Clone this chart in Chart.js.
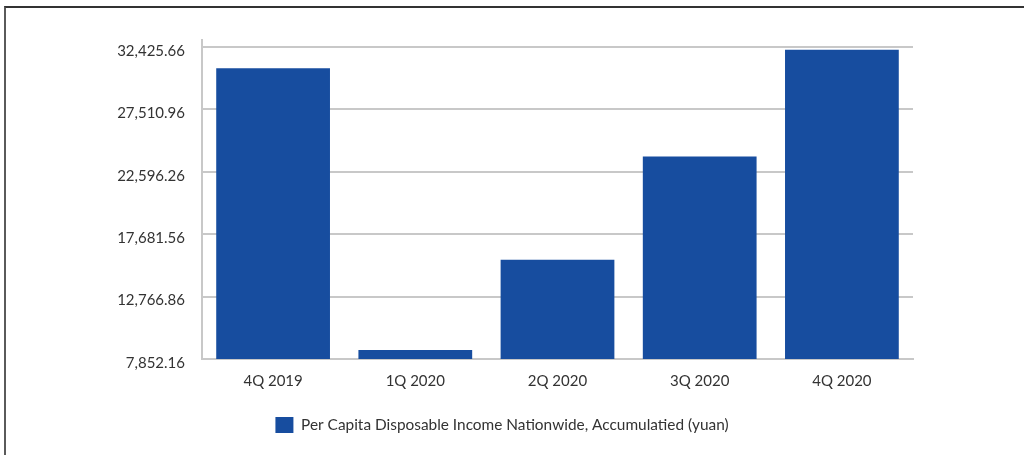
<!DOCTYPE html>
<html lang="en">

<head>
  <meta charset="UTF-8">
  <title>per capita disposable income</title>
  <style>
    body { margin: 0; overflow: hidden; background: #fff; }
    .frame {
      position: absolute; left: 4px; top: 6px; width: 1020px; height: 449px;
      border-top: 2px solid #333; border-left: 2px solid #5a5a5a;
    }
    .chart-box { position: absolute; left: 0; top: 0; width: 1024px; height: 455px; }
  </style>
</head>

<body>
  <div class="frame"></div>
  <div class="chart-box">
    <canvas id="incomeChart"></canvas>
  </div>
  <script src="https://cdn.jsdelivr.net/npm/chart.js"></script>
  <script>
    const quarters = ['4Q 2019', '1Q 2020', '2Q 2020', '3Q 2020', '4Q 2020'];
    const incomeValues = [30733, 8561, 15666, 23781, 32189];
    const yTickValues = [7852.16, 12766.86, 17681.56, 22596.26, 27510.96, 32425.66];
    const yMin = 7852.16;
    const yMax = 32960;

    const textColor = '#333';
    const gridColor = '#c8c8c8';
    const font = { family: 'Lato', size: 15 };

    const ctx = document.getElementById('incomeChart');

    new Chart(ctx, {
      type: 'bar',
      data: {
        labels: quarters,
        datasets: [{
          label: 'Per Capita Disposable Income Nationwide, Accumulatied (yuan)',
          data: incomeValues,
          backgroundColor: '#174d9f',
          borderWidth: 0,
          categoryPercentage: 1,
          barPercentage: 0.8
        }]
      },
      options: {
        responsive: true,
        maintainAspectRatio: false,
        animation: false,
        layout: { padding: { top: 40, bottom: 12, left: 0, right: 20 } },
        plugins: {
          tooltip: { enabled: false },
          legend: {
            position: 'bottom',
            labels: {
              boxWidth: 18, boxHeight: 16, padding: 10, color: textColor,
              font: { family: 'Lato', size: 15.4 }
            }
          }
        },
        scales: {
          x: {
            grid: { display: false, drawTicks: false },
            border: { color: gridColor, width: 2 },
            ticks: { color: textColor, font: font, padding: 13 },
            afterFit: function (scale) { scale.height = 48; }
          },
          y: {
            min: yMin,
            max: yMax,
            grid: { color: gridColor, lineWidth: 2, drawTicks: false },
            border: { color: gridColor, width: 2 },
            afterBuildTicks: function (scale) {
              scale.ticks = yTickValues.map(function (v) { return { value: v }; });
            },
            ticks: {
              color: textColor,
              font: font,
              padding: 17,
              labelOffset: 4,
              callback: function (value) {
                return value.toLocaleString('en-US', { minimumFractionDigits: 2, maximumFractionDigits: 2 });
              }
            },
            afterFit: function (scale) { scale.width = 202; }
          },
          // empty axis on the right, only keeps space free beside the plot
          spacer: {
            type: 'linear',
            position: 'right',
            display: true,
            grid: { display: false, drawTicks: false },
            border: { display: false },
            ticks: { display: false },
            afterFit: function (scale) { scale.width = 91; }
          }
        }
      }
    });
  </script>
</body>

</html>
